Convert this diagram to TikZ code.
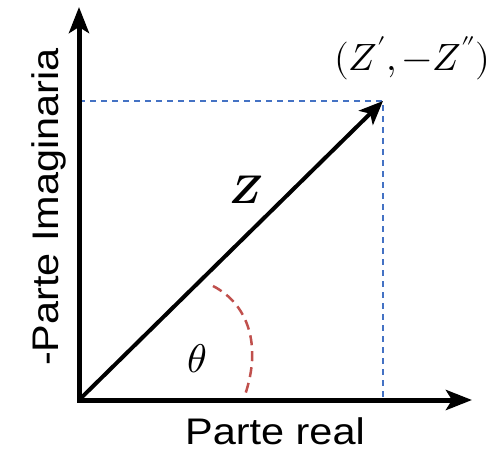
\documentclass[tikz,border=0pt]{standalone}
\usepackage{unicode-math}
\usetikzlibrary{arrows.meta}
\setmainfont{Liberation Sans}
\setmathfont{Latin Modern Math}
\definecolor{dashblue}{HTML}{4472C4}
\definecolor{arcred}{HTML}{C0504D}
\tikzset{
  axis/.style={line width=5pt, line join=miter, {Stealth[length=26pt,width=20pt,inset=6pt]}-{Stealth[length=26pt,width=20pt,inset=6pt]}},
  vec/.style={line width=4pt, -{Stealth[length=24pt,width=20pt,inset=6pt]}},
  guide/.style={dashblue, line width=1.5pt, dash pattern=on 6pt off 5pt},
  anglearc/.style={arcred, line width=2.5pt, dash pattern=on 10pt off 6pt},
  axlabel/.style={inner sep=0pt, font=\fontsize{37}{40}\selectfont},
  mathlabel/.style={inner sep=0pt, font=\fontsize{38}{42}\selectfont},
  biglabel/.style={inner sep=0pt, font=\fontsize{40}{44}\selectfont}
}
\begin{document}
\begin{tikzpicture}[x=1pt,y=-1pt]
\useasboundingbox (0,0) rectangle (498,451);
\coordinate (O) at (79,400);
\coordinate (ytip) at (79,7);
\coordinate (xtip) at (472,400);
\coordinate (P) at (383,101);
\coordinate (py) at (79,101);
\coordinate (px) at (383,400);
\coordinate (a0) at (213,286);
\coordinate (a1) at (245,395);
\draw[guide] (py) -- (P) -- (px);
\draw[axis] (ytip) -- (O) -- (xtip);
\draw[vec] (O) -- (P);
\draw[anglearc] (a0) .. controls (248,304) and (262,345) .. (a1);
\node[axlabel, anchor=base] (xl) at (275,444) {\scalebox{1.12}[1]{Parte real}};
\node[axlabel, anchor=base, rotate=90] (yl) at (58,207) {\scalebox{1.12}[1]{-Parte Imaginaria}};
\node[biglabel] (zl) at (246,190) {$\symbfit{Z}$};
\node[biglabel] (tl) at (197,359) {$\theta$};
\node[mathlabel] (pl) at (412,58) {$(Z',-Z'')$};
\end{tikzpicture}
\end{document}
